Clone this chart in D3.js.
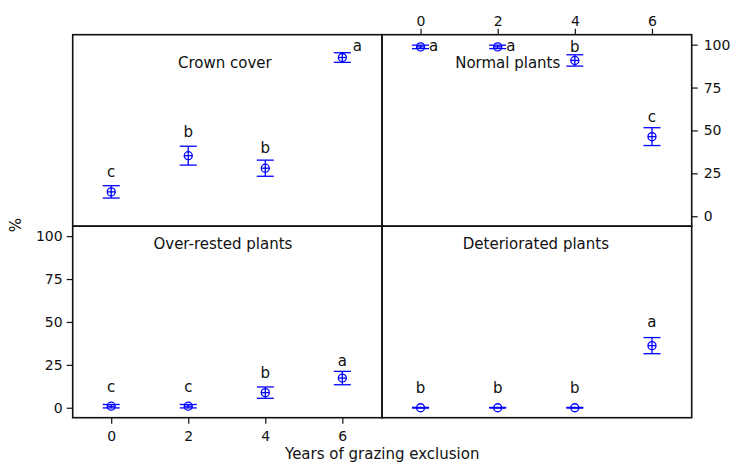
<!DOCTYPE html>
<html>
<head>
<meta charset="utf-8">
<script src="https://cdn.jsdelivr.net/npm/d3@7"></script>
<style>
  body { margin: 0; background: #fff; }
  svg text { font-family: "DejaVu Sans", Verdana, sans-serif; fill: #111; }
</style>
</head>
<body>
<svg id="chart" width="732" height="468"></svg>
<script>
// years of grazing exclusion
var years = [0, 2, 4, 6];
var yTicks = [0, 25, 50, 75, 100];

var panelNames = ["Crown cover", "Normal plants", "Over-rested plants", "Deteriorated plants"];

// mean and error per year
var crownMean = [14.2, 35.3, 28.0, 92.5];
var crownErr = [3.6, 5.5, 4.7, 2.8];
var crownLetters = ["c", "b", "b", "a"];
var crownLetterY = [22.9, 45.9, 37.1, 96.3];
var crownLetterDX = [0, 0, 0, 0.39];

var normalMean = [98.7, 98.7, 90.8, 46.4];
var normalErr = [1.0, 1.0, 3.3, 5.2];
var normalLetters = ["a", "a", "b", "c"];
var normalLetterY = [96.3, 96.3, 95.7, 55.0];
var normalLetterDX = [0.34, 0.34, 0, 0];

var overMean = [0.9, 0.9, 8.8, 17.3];
var overErr = [1.0, 1.0, 3.3, 3.9];
var overLetters = ["c", "c", "b", "a"];
var overLetterY = [9.4, 9.4, 17.2, 24.3];
var overLetterDX = [0, 0, 0, 0];

var detMean = [0.0, 0.0, 0.0, 36.2];
var detErr = [0.2, 0.2, 0.2, 4.7];
var detLetters = ["b", "b", "b", "a"];
var detLetterY = [8.4, 8.4, 8.4, 46.9];
var detLetterDX = [0, 0, 0, 0];

// title anchor in data units [year, value]
var titleAt = [[2.95, 86.5], [2.26, 86.4], [2.9, 92.3], [2.99, 92.3]];

var svg = d3.select("#chart");

var boxL = 72.7, boxR = 691.7, boxT = 34.7, boxB = 417.7;
var midX = 382, midY = 226.2;
var blue = "#0000ff";

var panels = [
    {name: panelNames[0], mean: crownMean, err: crownErr, letters: crownLetters, ly: crownLetterY, ldx: crownLetterDX, x0: boxL, x1: midX, y0: boxT, y1: midY},
    {name: panelNames[1], mean: normalMean, err: normalErr, letters: normalLetters, ly: normalLetterY, ldx: normalLetterDX, x0: midX, x1: boxR, y0: boxT, y1: midY},
    {name: panelNames[2], mean: overMean, err: overErr, letters: overLetters, ly: overLetterY, ldx: overLetterDX, x0: boxL, x1: midX, y0: midY, y1: boxB},
    {name: panelNames[3], mean: detMean, err: detErr, letters: detLetters, ly: detLetterY, ldx: detLetterDX, x0: midX, x1: boxR, y0: midY, y1: boxB}
];

panels.forEach(function(p, i){
    var x = d3.scaleLinear().domain([-1, 7.03]).range([p.x0, p.x1]);
    var y = d3.scaleLinear().domain([-5.8, 105.8]).range([p.y1, p.y0]);
    var g = svg.append("g");

    g.append("rect")
        .attr("x", p.x0).attr("y", p.y0)
        .attr("width", p.x1 - p.x0).attr("height", p.y1 - p.y0)
        .style("fill", "none")
        .style("stroke", "#111")
        .style("stroke-width", 1.6);

    g.append("text")
        .attr("x", x(titleAt[i][0]))
        .attr("y", y(titleAt[i][1]))
        .attr("text-anchor", "middle")
        .style("font-size", "15px")
        .text(p.name);

    var pts = years.map(function(yr, j){
        return {yr: yr, m: p.mean[j], e: p.err[j], l: p.letters[j], ly: p.ly[j], dx: p.ldx[j]};
    });

    var pt = g.selectAll(".pt").data(pts).enter().append("g")
        .attr("class", "pt")
        .style("stroke", blue)
        .style("stroke-width", 1.3)
        .style("fill", "none");

    pt.append("line")
        .attr("x1", function(d){ return x(d.yr); })
        .attr("x2", function(d){ return x(d.yr); })
        .attr("y1", function(d){ return y(d.m - d.e); })
        .attr("y2", function(d){ return y(d.m + d.e); });
    pt.append("line")
        .attr("x1", function(d){ return x(d.yr) - 8.5; })
        .attr("x2", function(d){ return x(d.yr) + 8.5; })
        .attr("y1", function(d){ return y(d.m + d.e); })
        .attr("y2", function(d){ return y(d.m + d.e); });
    pt.append("line")
        .attr("x1", function(d){ return x(d.yr) - 8.5; })
        .attr("x2", function(d){ return x(d.yr) + 8.5; })
        .attr("y1", function(d){ return y(d.m - d.e); })
        .attr("y2", function(d){ return y(d.m - d.e); });
    pt.append("circle")
        .attr("cx", function(d){ return x(d.yr); })
        .attr("cy", function(d){ return y(d.m); })
        .attr("r", 4);
    pt.append("line")
        .attr("x1", function(d){ return x(d.yr) - 4; })
        .attr("x2", function(d){ return x(d.yr) + 4; })
        .attr("y1", function(d){ return y(d.m); })
        .attr("y2", function(d){ return y(d.m); });

    g.selectAll(".let").data(pts).enter().append("text")
        .attr("class", "let")
        .attr("x", function(d){ return x(d.yr + d.dx); })
        .attr("y", function(d){ return y(d.ly); })
        .attr("text-anchor", "middle")
        .style("font-size", "15px")
        .text(function(d){ return d.l; });

    // axes only on alternating sides, lattice style
    if (i === 1) {
        g.append("g").attr("transform", "translate(0," + p.y0 + ")")
            .call(d3.axisTop(x).tickValues(years).tickSize(6).tickPadding(3));
        g.append("g").attr("transform", "translate(" + p.x1 + ",0)")
            .call(d3.axisRight(y).tickValues(yTicks).tickSize(6).tickPadding(6));
    }
    if (i === 2) {
        g.append("g").attr("transform", "translate(0," + p.y1 + ")")
            .call(d3.axisBottom(x).tickValues(years).tickSize(6).tickPadding(7));
        g.append("g").attr("transform", "translate(" + p.x0 + ",0)")
            .call(d3.axisLeft(y).tickValues(yTicks).tickSize(6).tickPadding(4));
    }
});

svg.selectAll(".domain").remove();
svg.selectAll(".tick line").style("stroke", "#111").style("stroke-width", 1.2);
svg.selectAll(".tick text")
    .style("font-family", "'DejaVu Sans', Verdana, sans-serif")
    .style("font-size", "14px")
    .style("fill", "#111");

svg.append("text")
    .attr("x", (boxL + boxR) / 2)
    .attr("y", 459)
    .attr("text-anchor", "middle")
    .style("font-size", "15px")
    .text("Years of grazing exclusion");

svg.append("text")
    .attr("transform", "translate(21,225) rotate(-90)")
    .attr("text-anchor", "middle")
    .style("font-size", "15px")
    .text("%");
</script>
</body>
</html>
